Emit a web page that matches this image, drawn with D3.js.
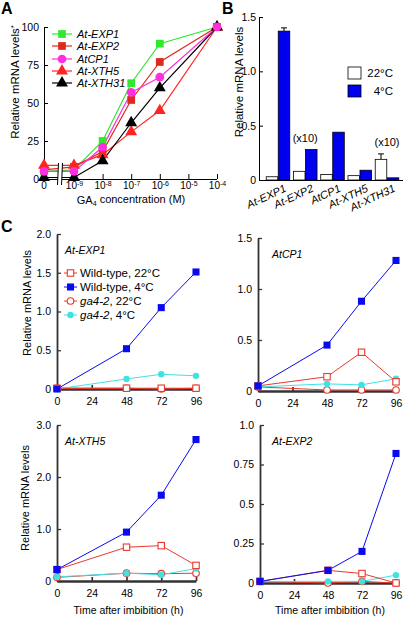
<!DOCTYPE html>
<html><head><meta charset="utf-8">
<script src="https://cdn.jsdelivr.net/npm/d3@7"></script>
<style>
body{margin:0;background:#fff;}
svg{display:block;font-family:"Liberation Sans",Arial,Helvetica,sans-serif;}
</style></head><body>
<svg id="chart" width="405" height="619"></svg>
<script>
// ---------- Panel A data ----------
const gaConc = [0, 1e-9, 1e-8, 1e-7, 1e-6, 1e-4];
const gaTicks = [1e-9, 1e-8, 1e-7, 1e-6, 1e-5, 1e-4];
const aGenes = ["At-EXP1", "At-EXP2", "AtCP1", "At-XTH5", "At-XTH31"];
const aEXP1 = [5, 6, 25, 63, 89, 100];
const aEXP2 = [6, 8, 18, 52, 77, 100];
const aCP1 = [5, 5, 21, 57, 67, 100];
const aXTH5 = [9, 9, 16, 31, 45, 100];
const aXTH31 = [1, 1, 12, 37, 60, 100];
const aYTicks = [0, 25, 50, 75, 100];

// ---------- Panel B data ----------
const bGenes = ["At-EXP1", "At-EXP2", "AtCP1", "At-XTH5", "At-XTH31"];
const bTemps = ["22°C", "4°C"];
const b22 = [0.03, 0.08, 0.05, 0.04, 0.19];
const b4 = [1.37, 0.28, 0.44, 0.09, 0.02];
const b22Err = [0, 0, 0, 0, 0.05];
const b4Err = [0.03, 0, 0, 0, 0];
const bScaled = ["", "(x10)", "", "", "(x10)"];
const bYTicks = [0, 0.5, 1.0, 1.5];

// ---------- Panel C data ----------
const cTimes = [0, 48, 72, 96];
const cXTicks = [0, 24, 48, 72, 96];
const cSeries = ["Wild-type, 22°C", "Wild-type, 4°C", "ga4-2, 22°C", "ga4-2, 4°C"];
const exp1WT22 = [0.01, 0.01, 0.01, 0.01];
const exp1WT4 = [0.0, 0.52, 1.05, 1.51];
const exp1Ga22 = [0.01, 0.01, 0.0, 0.01];
const exp1Ga4 = [0.0, 0.13, 0.19, 0.17];
const cp1WT22 = [0.05, 0.14, 0.38, 0.09];
const cp1WT4 = [0.05, 0.45, 0.88, 1.28];
const cp1Ga22 = [0.04, 0.01, 0.01, 0.01];
const cp1Ga4 = [0.04, 0.07, 0.06, 0.12];
const xth5WT22 = [0.22, 0.65, 0.68, 0.30];
const xth5WT4 = [0.22, 0.94, 1.65, 2.72];
const xth5Ga22 = [0.07, 0.15, 0.14, 0.15];
const xth5Ga4 = [0.08, 0.15, 0.12, 0.24];
const exp2WT22 = [0.01, 0.08, 0.06, 0.0];
const exp2WT4 = [0.01, 0.08, 0.20, 0.82];
const exp2Ga22 = [0.01, 0.0, 0.01, 0.0];
const exp2Ga4 = [0.01, 0.01, 0.01, 0.05];

const svg = d3.select("#chart");
svg.append("rect").attr("width", 405).attr("height", 619).attr("fill", "#fff");

function panelLabel(t, x, y) {
  svg.append("text").attr("x", x).attr("y", y).attr("font-size", 16)
    .attr("font-weight", "bold").text(t);
}
panelLabel("A", 1, 14);
panelLabel("B", 222, 14);
panelLabel("C", 1, 232);

function sym(type, size) { return d3.symbol().type(type).size(size)(); }

function styleAxis(g, color, width, fs) {
  g.selectAll(".domain").attr("stroke", color).attr("stroke-width", width);
  g.selectAll(".tick line").attr("stroke", color).attr("stroke-width", Math.max(1, width * 0.7));
  g.selectAll(".tick text").attr("font-size", fs).attr("fill", "#000")
    .attr("font-family", '"Liberation Sans",Arial,sans-serif');
}

// ================= Panel A =================
const xA = d3.scaleLog().domain([1e-9, 1e-4]).range([74, 217]);
const xA0 = 44;
const xPosA = c => c === 0 ? xA0 : xA(c);
const yA = d3.scaleLinear().domain([0, 100]).range([179, 27]);
const gA = svg.append("g");

const yAxA = gA.append("g").attr("transform", `translate(${xA0},0)`)
  .call(d3.axisLeft(yA).tickValues(aYTicks).tickSize(-4).tickSizeOuter(0).tickPadding(5));
styleAxis(yAxA, "#000", 1, 10.5);

const xAxA = gA.append("g").attr("transform", "translate(0,179)")
  .call(d3.axisBottom(xA).tickValues(gaTicks).tickSize(-5).tickSizeOuter(0).tickPadding(3).tickFormat(() => "10"));
xAxA.select(".domain").remove();
styleAxis(xAxA, "#000", 1, 10);
xAxA.selectAll(".tick text").append("tspan").attr("dy", "-0.45em").attr("font-size", 7)
  .text(d => Math.round(Math.log10(d)));
gA.append("line").attr("x1", xA0).attr("x2", 58).attr("y1", 179.5).attr("y2", 179.5).attr("stroke", "#000");
gA.append("line").attr("x1", 62).attr("x2", 217).attr("y1", 179.5).attr("y2", 179.5).attr("stroke", "#000");
gA.append("text").attr("x", xA0).attr("y", 189).attr("text-anchor", "middle").attr("font-size", 10).text("0");

const aColors = ["#2fe82f", "#de2a1c", "#ff2ee0", "#ff2424", "#000000"];
const aSym = [d3.symbolSquare, d3.symbolSquare, d3.symbolCircle, d3.symbolTriangle, d3.symbolTriangle];
const aSize = [60, 60, 60, 62, 62];
const aIdx = [0, 1, 3, 4, 2];
const lineA = d3.line().x((d, i) => xPosA(gaConc[i])).y(d => yA(d));
aIdx.forEach(k => {
  const vals = [aEXP1, aEXP2, aCP1, aXTH5, aXTH31][k];
  gA.append("path").attr("d", lineA(vals)).attr("fill", "none")
    .attr("stroke", aColors[k]).attr("stroke-width", 1.2);
});
// axis break
gA.append("rect").attr("x", 58).attr("y", 162).attr("width", 4).attr("height", 23).attr("fill", "#fff");
gA.append("line").attr("x1", 57.5).attr("y1", 185).attr("x2", 58.5).attr("y2", 163).attr("stroke", "#000");
gA.append("line").attr("x1", 61.5).attr("y1", 185).attr("x2", 62.5).attr("y2", 163).attr("stroke", "#000");
aIdx.forEach(k => {
  const vals = [aEXP1, aEXP2, aCP1, aXTH5, aXTH31][k];
  gA.selectAll(null).data(vals).enter().append("path")
    .attr("transform", (d, i) => `translate(${xPosA(gaConc[i])},${yA(d)})`)
    .attr("d", sym(aSym[k], aSize[k])).attr("fill", aColors[k]);
});
// legend A
aGenes.forEach((name, k) => {
  const y = [34, 46, 59, 71, 83][k];
  gA.append("line").attr("x1", 52).attr("x2", 72).attr("y1", y).attr("y2", y)
    .attr("stroke", aColors[k]).attr("stroke-width", 1.2);
  gA.append("path").attr("transform", `translate(62,${y})`).attr("d", sym(aSym[k], aSize[k])).attr("fill", aColors[k]);
  gA.append("text").attr("x", 77).attr("y", y + 4).attr("font-size", 11).attr("font-style", "italic").text(name);
});
gA.append("text").attr("transform", "translate(19,82) rotate(-90)").attr("text-anchor", "middle")
  .attr("font-size", 11.5).text("Relative mRNA levels")
  .append("tspan").attr("dy", "-0.4em").attr("font-size", 8).text("*");
const gaLab = gA.append("text").attr("x", 131).attr("y", 204).attr("text-anchor", "middle").attr("font-size", 11);
gaLab.append("tspan").text("GA");
gaLab.append("tspan").attr("dy", "0.3em").attr("font-size", 7).text("4");
gaLab.append("tspan").attr("dy", "-0.3em").text(" concentration (M)");

// ================= Panel B =================
const yB = d3.scaleLinear().domain([0, 1.5]).range([180, 17]);
const xB = d3.scaleBand().domain(bGenes).range([263, 402]).padding(0.1);
const xBin = d3.scaleBand().domain(bTemps).range([0, xB.bandwidth()]).padding(0.04);
const gB = svg.append("g");
const yAxB = gB.append("g").attr("transform", "translate(259,0)")
  .call(d3.axisLeft(yB).tickValues(bYTicks).tickSize(-4).tickSizeOuter(0).tickPadding(3)
    .tickFormat(d => d === 0 ? "0" : d.toFixed(1)));
styleAxis(yAxB, "#000", 1, 10.5);
gB.append("line").attr("x1", 259).attr("x2", 403).attr("y1", 180.5).attr("y2", 180.5).attr("stroke", "#000");
const bFill = { "22°C": "#ffffff", "4°C": "#0000ee" };
bGenes.forEach((gname, i) => {
  [[b22, b22Err, "22°C"], [b4, b4Err, "4°C"]].forEach(([vals, errs, t]) => {
    const x0 = xB(gname) + xBin(t);
    const v = vals[i];
    gB.append("rect").attr("x", x0).attr("y", yB(v)).attr("width", xBin.bandwidth())
      .attr("height", yB(0) - yB(v)).attr("fill", bFill[t]).attr("stroke", "#000").attr("stroke-width", 0.8);
    if (errs[i] > 0) {
      const cx = x0 + xBin.bandwidth() / 2;
      gB.append("line").attr("x1", cx).attr("x2", cx).attr("y1", yB(v)).attr("y2", yB(v + errs[i])).attr("stroke", "#000");
      gB.append("line").attr("x1", cx - 3).attr("x2", cx + 3).attr("y1", yB(v + errs[i])).attr("y2", yB(v + errs[i])).attr("stroke", "#000");
    }
  });
  if (bScaled[i]) {
    const top = Math.max(b22[i] + b22Err[i], b4[i] + b4Err[i]);
    gB.append("text").attr("x", xB(gname) + xB.bandwidth() / 2).attr("y", yB(top) - 8)
      .attr("text-anchor", "middle").attr("font-size", 11).text(bScaled[i]);
  }
  const lx = xB(gname) + xB.bandwidth() / 2 + 9, ly = 191;
  gB.append("text").attr("transform", `translate(${lx},${ly}) rotate(-25)`).attr("text-anchor", "end")
    .attr("font-size", 11).attr("font-style", "italic").text(gname);
});
gB.append("text").attr("transform", "translate(243,82) rotate(-90)").attr("text-anchor", "middle")
  .attr("font-size", 11.5).text("Relative mRNA levels");
bTemps.forEach((t, k) => {
  const y = 67 + k * 18;
  gB.append("rect").attr("x", 348).attr("y", y).attr("width", 13).attr("height", 12)
    .attr("fill", bFill[t]).attr("stroke", "#000").attr("stroke-width", 0.8);
  gB.append("text").attr("x", 393).attr("y", y + 10).attr("text-anchor", "end").attr("font-size", 11.5).text(t);
});

// ================= Panel C =================
const cColors = ["#e8392e", "#0a0aee", "#e8392e", "#3de3e3"];
function drawMarker(g, k, x, y) {
  if (k === 0) g.append("rect").attr("x", x - 3.2).attr("y", y - 3.2).attr("width", 6.4).attr("height", 6.4)
    .attr("fill", "#fff").attr("stroke", cColors[0]).attr("stroke-width", 1.1);
  else if (k === 1) g.append("path").attr("transform", `translate(${x},${y})`).attr("d", sym(d3.symbolSquare, 50)).attr("fill", cColors[1]);
  else if (k === 2) g.append("circle").attr("cx", x).attr("cy", y).attr("r", 3.3)
    .attr("fill", "#fff").attr("stroke", cColors[2]).attr("stroke-width", 1.1);
  else g.append("circle").attr("cx", x).attr("cy", y).attr("r", 3.2).attr("fill", cColors[3]);
}
function drawC(cfg) {
  const x = d3.scaleLinear().domain([0, 96]).range(cfg.xr);
  const y = d3.scaleLinear().domain(cfg.yd).range(cfg.yr);
  const g = svg.append("g");
  const ax = g.append("g").attr("transform", `translate(0,${cfg.yr[0]})`)
    .call(d3.axisBottom(x).tickValues(cXTicks).tickSize(-4).tickSizeOuter(0).tickPadding(9));
  styleAxis(ax, "#333", 2.4, 10.5);
  const ay = g.append("g").attr("transform", `translate(${cfg.xr[0]},0)`)
    .call(d3.axisLeft(y).tickValues(cfg.yt).tickSize(-4).tickSizeOuter(0).tickPadding(6).tickFormat(cfg.fmt));
  styleAxis(ay, "#333", 1.8, 10.5);
  g.append("text").attr("x", cfg.tx).attr("y", cfg.yr[1] + 20).attr("font-size", 10.5)
    .attr("font-style", "italic").text(cfg.title);
  const order = [2, 3, 0, 1];
  const line = d3.line().x((d, i) => x(cTimes[i])).y(d => y(d));
  order.forEach(k => {
    g.append("path").attr("d", line(cfg.data[k])).attr("fill", "none")
      .attr("stroke", cColors[k]).attr("stroke-width", 1);
  });
  order.forEach(k => {
    cfg.data[k].forEach((v, i) => drawMarker(g, k, x(cTimes[i]), y(v)));
  });
  if (cfg.ylab) {
    g.append("text").attr("transform", `translate(${cfg.ylx},${cfg.yly}) rotate(-90)`)
      .attr("text-anchor", "middle").attr("font-size", 11).text("Relative mRNA levels");
  }
  if (cfg.xlab) {
    g.append("text").attr("x", (cfg.xr[0] + cfg.xr[1]) / 2 + 2).attr("y", 614).attr("text-anchor", "middle")
      .attr("font-size", 10.5).text("Time after imbibition (h)");
  }
  return g;
}
const fmt1 = d => d === 0 ? "0" : d.toFixed(1);
const gC1 = drawC({ xr: [57, 196], yd: [0, 2], yr: [389, 234], yt: [0, 0.5, 1, 1.5, 2], fmt: fmt1,
  title: "At-EXP1", tx: 65, data: [exp1WT22, exp1WT4, exp1Ga22, exp1Ga4], ylab: true, ylx: 31, yly: 303 });
drawC({ xr: [258, 396], yd: [0, 1.5], yr: [391, 238], yt: [0, 0.5, 1, 1.5], fmt: fmt1,
  title: "AtCP1", tx: 272, data: [cp1WT22, cp1WT4, cp1Ga22, cp1Ga4] });
drawC({ xr: [57, 196], yd: [0, 3], yr: [581, 425], yt: [0, 1, 2, 3], fmt: fmt1,
  title: "At-XTH5", tx: 65, data: [xth5WT22, xth5WT4, xth5Ga22, xth5Ga4], ylab: true, ylx: 29, yly: 498, xlab: true });
drawC({ xr: [260, 396], yd: [0, 1], yr: [583, 425], yt: [0, 0.25, 0.5, 0.75, 1], fmt: d => d === 0 ? "0" : d === 1 ? "1.0" : String(d),
  title: "At-EXP2", tx: 272, data: [exp2WT22, exp2WT4, exp2Ga22, exp2Ga4], xlab: true });

// legend C
cSeries.forEach((name, k) => {
  const y = 273 + k * 14;
  gC1.append("line").attr("x1", 64).attr("x2", 77).attr("y1", y).attr("y2", y).attr("stroke", cColors[k]).attr("stroke-width", 1);
  drawMarker(gC1, k, 70.5, y);
  const t = gC1.append("text").attr("x", 80).attr("y", y + 4).attr("font-size", 11.5);
  if (name.startsWith("ga4-2")) {
    t.append("tspan").attr("font-style", "italic").text("ga4-2");
    t.append("tspan").text(name.slice(5));
  } else t.text(name);
});
</script>
</body></html>
